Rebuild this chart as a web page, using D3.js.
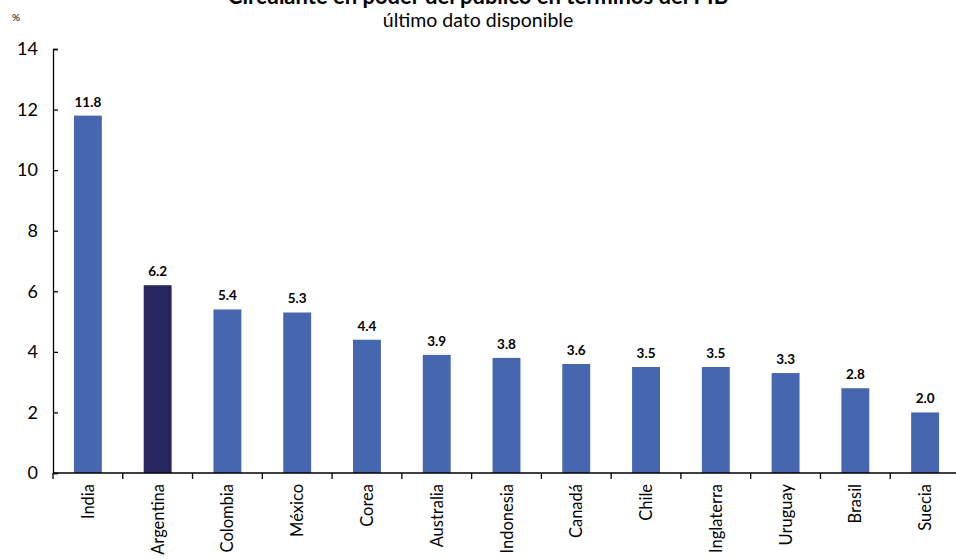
<!DOCTYPE html>
<html>
<head>
<meta charset="utf-8">
<script src="https://cdn.jsdelivr.net/npm/d3@7"></script>
<style>
  html, body { margin: 0; padding: 0; background: #fff; }
  svg { display: block; font-family: Lato, "Open Sans", sans-serif; }
</style>
</head>
<body>
<svg id="chart" width="956" height="559"></svg>
<script>
// Circulante en poder del público, % del PIB
const countries = ["India", "Argentina", "Colombia", "México", "Corea", "Australia",
  "Indonesia", "Canadá", "Chile", "Inglaterra", "Uruguay", "Brasil", "Suecia"];
const values = [11.8, 6.2, 5.4, 5.3, 4.4, 3.9, 3.8, 3.6, 3.5, 3.5, 3.3, 2.8, 2.0];
const highlight = ["Argentina"];
const yTicks = [0, 2, 4, 6, 8, 10, 12, 14];

const svg = d3.select("#chart");
const plotLeft = 53, plotRight = 960, plotTop = 49, plotBottom = 473;

const x = d3.scaleBand().domain(countries).range([plotLeft, plotRight]).paddingInner(0.6).paddingOuter(0.3);
const xEdges = d3.scaleLinear().domain([0, countries.length]).range([plotLeft, plotRight]);
const y = d3.scaleLinear().domain([0, 14]).range([plotBottom, plotTop]);

// Title and subtitle
svg.append("text").attr("x", 478).attr("y", 4).attr("text-anchor", "middle")
  .attr("font-size", 22).attr("font-weight", "bold").attr("fill", "#000")
  .text("Circulante en poder del público en términos del PIB");
svg.append("text").attr("x", 478).attr("y", 27).attr("text-anchor", "middle")
  .attr("font-size", 19.5).attr("fill", "#000").text("último dato disponible");
svg.append("text").attr("x", 12).attr("y", 21).attr("font-size", 10).attr("fill", "#000").text("%");

// Bars
svg.append("g").selectAll("rect").data(countries).join("rect")
  .attr("x", d => x(d))
  .attr("width", x.bandwidth())
  .attr("y", (d, i) => y(values[i]))
  .attr("height", (d, i) => y(0) - y(values[i]))
  .attr("fill", d => highlight.includes(d) ? "#29255F" : "#4666B0");

// Value labels
svg.append("g").selectAll("text").data(countries).join("text")
  .attr("x", d => x(d) + x.bandwidth() / 2)
  .attr("y", (d, i) => y(values[i]) - 9)
  .attr("text-anchor", "middle")
  .attr("font-size", 13.5).attr("font-weight", "bold").attr("fill", "#000")
  .text((d, i) => values[i].toFixed(1));

// Y axis (ticks pointing inward)
const yAxis = svg.append("g").attr("transform", `translate(${plotLeft},0)`)
  .call(d3.axisLeft(y).tickValues(yTicks).tickSize(-5).tickPadding(15).tickFormat(d3.format("d")));
yAxis.select(".domain").attr("stroke", "#000").attr("stroke-width", 1.3);
yAxis.selectAll(".tick line").attr("stroke", "#000").attr("stroke-width", 1.3);
yAxis.selectAll(".tick text").attr("font-size", 18).attr("fill", "#000")
  .attr("font-family", "Lato, 'Open Sans', sans-serif");

// X axis: baseline with ticks on category boundaries
const xg = svg.append("g");
xg.append("line").attr("x1", plotLeft).attr("x2", plotRight).attr("y1", plotBottom).attr("y2", plotBottom)
  .attr("stroke", "#000").attr("stroke-width", 1.5);
xg.selectAll("line.tk").data(d3.range(countries.length)).join("line").attr("class", "tk")
  .attr("x1", i => xEdges(i)).attr("x2", i => xEdges(i))
  .attr("y1", plotBottom).attr("y2", plotBottom + 6)
  .attr("stroke", "#000").attr("stroke-width", 1.3);

// Category labels, rotated
xg.selectAll("text").data(countries).join("text")
  .attr("transform", d => `translate(${x(d) + x.bandwidth() / 2 + 6},${plotBottom + 11}) rotate(-90)`)
  .attr("text-anchor", "end")
  .attr("font-size", 16.5).attr("fill", "#000")
  .text(d => d);
</script>
</body>
</html>
